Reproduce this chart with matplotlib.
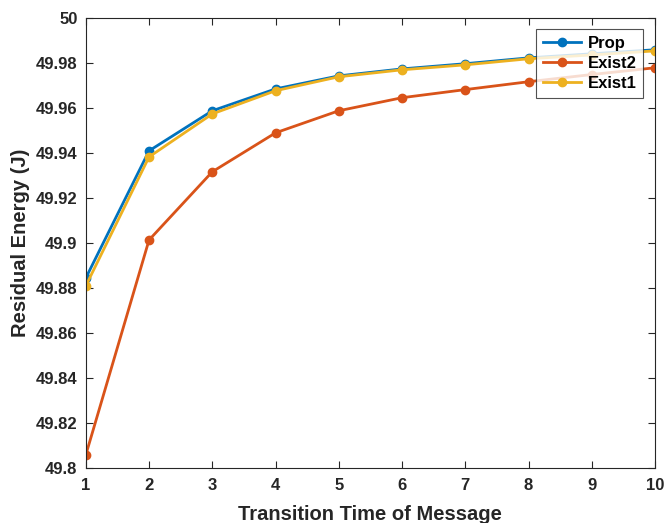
import matplotlib
matplotlib.use("Agg")
import matplotlib.pyplot as plt

x = [1, 2, 3, 4, 5, 6, 7, 8, 9, 10]
prop = [49.8844, 49.9409, 49.9587, 49.9684, 49.9742, 49.9773, 49.9796, 49.9822, 49.9840, 49.9858]
exist2 = [49.8058, 49.9013, 49.9316, 49.9489, 49.9587, 49.9645, 49.9681, 49.9716, 49.9748, 49.9778]
exist1 = [49.8809, 49.9382, 49.9573, 49.9676, 49.9738, 49.9769, 49.9791, 49.9818, 49.9835, 49.9853]
yticks = [49.8, 49.82, 49.84, 49.86, 49.88, 49.9, 49.92, 49.94, 49.96, 49.98, 50]
ytick_labels = ["49.8", "49.82", "49.84", "49.86", "49.88", "49.9", "49.92", "49.94", "49.96", "49.98", "50"]

plt.rcParams['font.family'] = ['Liberation Sans', 'DejaVu Sans']
plt.rcParams['font.weight'] = 'bold'

fig = plt.figure(figsize=(6.65, 5.23), dpi=100)
ax = fig.add_axes([0.129, 0.105, 0.856, 0.861])

ax.plot(x, prop, '-o', color='#0072BD', lw=2, ms=6, label='Prop')
ax.plot(x, exist2, '-o', color='#D95319', lw=2, ms=6, label='Exist2')
ax.plot(x, exist1, '-o', color='#EDB120', lw=2, ms=6, label='Exist1')

ax.set_xlim(1, 10)
ax.set_ylim(49.8, 50)
ax.set_xticks(x)
ax.set_yticks(yticks)
ax.set_yticklabels(ytick_labels)
ax.tick_params(direction='in', top=True, right=True, labelsize=12, color='#262626', length=5)
ax.tick_params(axis='x', pad=7)
ax.tick_params(axis='y', pad=6)
for lab in ax.get_xticklabels() + ax.get_yticklabels():
    lab.set_fontweight('bold')
    lab.set_color('#262626')
for s in ax.spines.values():
    s.set_color('#262626')
    s.set_linewidth(0.8)

ax.set_xlabel('Transition Time of Message', fontsize=14.5, fontweight='bold', color='#262626', labelpad=9)
ax.set_ylabel('Residual Energy (J)', fontsize=14.5, fontweight='bold', color='#262626', labelpad=4)

leg = ax.legend(loc='upper right', fontsize=12, frameon=True, fancybox=False, edgecolor='#262626',
                borderaxespad=0.7, handlelength=2.3, labelspacing=0.3, borderpad=0.4, handletextpad=0.4)
leg.get_frame().set_linewidth(0.8)
for t in leg.get_texts():
    t.set_fontweight('bold')

fig.savefig('out.png', dpi=100)
